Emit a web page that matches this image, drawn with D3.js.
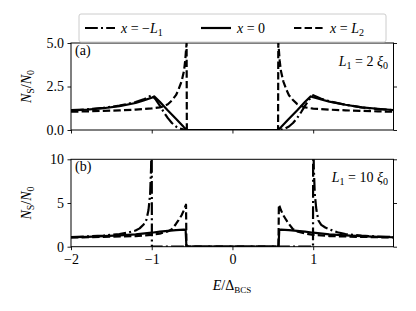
<!DOCTYPE html>
<html>
<head>
<meta charset="utf-8">
<script src="https://cdn.jsdelivr.net/npm/d3@7"></script>
<style>
  body { margin: 0; background: #fff; }
  text { font-family: "Liberation Serif", "DejaVu Serif", serif; }
</style>
</head>
<body>
<svg id="chart" width="416" height="311"></svg>
<script>
// x ticks shared by both panels
const xTicks = [-2, -1, 0, 1];
const yTicksA = [0, 2.5, 5];
const yTicksB = [0, 5, 10];

// panel (a): L1 = 2 xi0
const eA_minusL1 = [-2, -1.8, -1.6, -1.4, -1.2, -1.1, -1.0, -0.95, -0.9, -0.85, -0.8, -0.75, -0.7, -0.65, -0.6, -0.565,
  0.565, 0.6, 0.65, 0.7, 0.75, 0.8, 0.85, 0.9, 0.95, 1.0, 1.1, 1.2, 1.4, 1.6, 1.8, 1.99];
const nA_minusL1 = [1.14, 1.19, 1.27, 1.4, 1.6, 1.76, 2.0, 1.75, 1.4, 1.02, 0.68, 0.4, 0.2, 0.08, 0.02, 0,
  0, 0.02, 0.08, 0.2, 0.4, 0.68, 1.02, 1.4, 1.75, 2.0, 1.8, 1.65, 1.45, 1.3, 1.2, 1.14];

const eA_zero = [-2, -1.8, -1.6, -1.4, -1.2, -1.1, -1.0, -0.97, -0.9, -0.8, -0.7, -0.6, -0.565,
  0.565, 0.6, 0.7, 0.8, 0.9, 0.97, 1.0, 1.1, 1.2, 1.4, 1.6, 1.8, 1.99];
const nA_zero = [1.12, 1.17, 1.25, 1.37, 1.55, 1.7, 1.85, 1.93, 1.62, 1.12, 0.65, 0.16, 0,
  0, 0.16, 0.65, 1.12, 1.62, 1.93, 1.88, 1.75, 1.63, 1.45, 1.3, 1.22, 1.15];

const eA_L2 = [-2, -1.8, -1.6, -1.4, -1.2, -1.0, -0.9, -0.85, -0.8, -0.75, -0.7, -0.67, -0.63, -0.6, -0.585, -0.575, -0.568, -0.565,
  0.565, 0.568, 0.575, 0.585, 0.6, 0.63, 0.67, 0.7, 0.75, 0.8, 0.85, 0.9, 1.0, 1.2, 1.4, 1.6, 1.8, 1.99];
const nA_L2 = [1.05, 1.07, 1.1, 1.13, 1.17, 1.24, 1.3, 1.37, 1.48, 1.7, 2.0, 2.3, 2.8, 3.4, 4.0, 4.6, 5.0, 0,
  0, 5.0, 4.6, 4.0, 3.4, 2.8, 2.3, 2.0, 1.72, 1.5, 1.38, 1.3, 1.23, 1.17, 1.13, 1.1, 1.07, 1.05];

// panel (b): L1 = 10 xi0
const eB_minusL1 = [-2, -1.8, -1.6, -1.4, -1.3, -1.2, -1.15, -1.1, -1.065, -1.04, -1.02, -1.008, -1.0, -0.998,
  0.998, 1.0, 1.008, 1.02, 1.04, 1.065, 1.1, 1.15, 1.2, 1.3, 1.4, 1.6, 1.8, 1.99];
const nB_minusL1 = [1.1, 1.17, 1.27, 1.45, 1.6, 1.85, 2.1, 2.55, 3.1, 4.2, 6.0, 9.0, 14, 0,
  0, 14, 9.0, 6.0, 4.2, 3.0, 2.5, 2.2, 2.0, 1.65, 1.45, 1.27, 1.17, 1.1];

const eB_zero = [-2, -1.8, -1.6, -1.4, -1.2, -1.0, -0.9, -0.8, -0.7, -0.6, -0.58, -0.57,
  0.57, 0.58, 0.6, 0.7, 0.8, 0.9, 1.0, 1.2, 1.4, 1.6, 1.8, 1.99];
const nB_zero = [1.08, 1.13, 1.2, 1.3, 1.42, 1.6, 1.72, 1.82, 1.9, 1.95, 1.9, 0,
  0, 1.9, 1.95, 1.9, 1.82, 1.72, 1.6, 1.42, 1.3, 1.2, 1.13, 1.08];

const eB_L2 = [-2, -1.6, -1.2, -1.0, -0.9, -0.8, -0.75, -0.7, -0.67, -0.63, -0.6, -0.585, -0.575, -0.57,
  0.57, 0.575, 0.585, 0.6, 0.63, 0.67, 0.7, 0.75, 0.8, 0.9, 1.0, 1.2, 1.6, 1.99];
const nB_L2 = [1.05, 1.12, 1.22, 1.35, 1.5, 1.75, 2.0, 2.6, 3.0, 3.6, 4.2, 4.6, 4.8, 0,
  0, 4.8, 4.6, 4.2, 3.6, 3.0, 2.6, 2.0, 1.75, 1.5, 1.35, 1.22, 1.12, 1.05];

const svg = d3.select('#chart');

const x = d3.scaleLinear().domain([-2, 1.995]).range([71, 393.5]);

const dashDot = '12.8,3.2,2,3.2';
const dashed = '7.4,3.2';
const lw = 2.2;
const fs = 14;

// helper for text with italic / subscript pieces
function mathText(sel, parts) {
    parts.forEach(p => {
        const t = sel.append('tspan').text(p.t);
        if (p.i) t.style('font-style', 'italic');
        if (p.sub) t.attr('font-size', p.size || 10).attr('dy', p.sub);
    });
}

function drawPanel(cfg) {
    const y = d3.scaleLinear().domain(cfg.yDomain).range([cfg.bottom, cfg.top]);
    const g = svg.append('g');

    g.append('clipPath').attr('id', cfg.id)
        .append('rect')
        .attr('x', x.range()[0]).attr('y', cfg.top)
        .attr('width', x.range()[1] - x.range()[0])
        .attr('height', cfg.bottom - cfg.top);

    const line = d3.line().x(d => x(d[0])).y(d => y(d[1]));

    cfg.series.forEach(s => {
        g.append('path')
            .datum(d3.zip(s.e, s.n))
            .attr('d', line)
            .attr('clip-path', `url(#${cfg.id})`)
            .attr('fill', 'none')
            .attr('stroke', '#000')
            .attr('stroke-width', lw)
            .attr('stroke-dasharray', s.dash)
            .attr('stroke-linejoin', 'round');
    });

    // axes
    const xAxis = g.append('g')
        .attr('transform', `translate(0,${cfg.bottom})`)
        .call(d3.axisBottom(x).tickValues(xTicks).tickSize(3.5).tickSizeOuter(0).tickPadding(3.5)
            .tickFormat(cfg.showX ? d3.format('d') : ''));
    const yAxis = g.append('g')
        .attr('transform', `translate(${x.range()[0]},0)`)
        .call(d3.axisLeft(y).tickValues(cfg.yTicks).tickSize(3.5).tickSizeOuter(0).tickPadding(3.5)
            .tickFormat(d3.format(cfg.yFormat)));
    const yAxisR = g.append('g')
        .attr('transform', `translate(${x.range()[1]},0)`)
        .call(d3.axisRight(y).tickValues(cfg.yTicks).tickSize(3.5).tickSizeOuter(0).tickFormat(''));

    [xAxis, yAxis, yAxisR].forEach(a => {
        a.attr('font-family', null).attr('font-size', null);
        a.select('.domain').remove();
        a.selectAll('line').attr('stroke-width', 0.9);
        a.selectAll('text')
            .style('font-size', fs + 'px')
            .attr('fill', '#000');
    });

    // frame
    g.append('rect')
        .attr('x', x.range()[0]).attr('y', cfg.top)
        .attr('width', x.range()[1] - x.range()[0])
        .attr('height', cfg.bottom - cfg.top)
        .attr('fill', 'none').attr('stroke', '#000').attr('stroke-width', 1);

    // panel tag and L1 annotation
    g.append('text').attr('x', 75).attr('y', cfg.top + 12)
        .style('font-size', fs + 'px').text(cfg.tag);
    const ann = g.append('text').attr('x', 388).attr('y', cfg.top + 23)
        .attr('text-anchor', 'end').style('font-size', fs + 'px');
    mathText(ann, [
        { t: 'L', i: true }, { t: '1', sub: 3 },
        { t: ' = ' + cfg.lval + ' ', sub: -3, size: fs },
        { t: 'ξ', i: true }, { t: '0', sub: 3 }
    ]);

    // y label
    const yl = g.append('text')
        .attr('transform', `translate(31,${(cfg.top + cfg.bottom) / 2}) rotate(-90)`)
        .attr('text-anchor', 'middle').style('font-size', fs + 'px');
    mathText(yl, [
        { t: 'N', i: true }, { t: 'S', sub: 3 },
        { t: '/', sub: -3, size: fs },
        { t: 'N', i: true }, { t: '0', sub: 3 }
    ]);
}

drawPanel({
    id: 'clipA', top: 43, bottom: 130, yDomain: [0, 5], yTicks: yTicksA, yFormat: '.1f',
    showX: false, tag: '(a)', lval: '2',
    series: [
        { e: eA_minusL1, n: nA_minusL1, dash: dashDot },
        { e: eA_zero, n: nA_zero, dash: null },
        { e: eA_L2, n: nA_L2, dash: dashed }
    ]
});

drawPanel({
    id: 'clipB', top: 159.3, bottom: 246.7, yDomain: [0, 10], yTicks: yTicksB, yFormat: 'd',
    showX: true, tag: '(b)', lval: '10',
    series: [
        { e: eB_minusL1, n: nB_minusL1, dash: dashDot },
        { e: eB_zero, n: nB_zero, dash: null },
        { e: eB_L2, n: nB_L2, dash: dashed }
    ]
});

// x label
const xl = svg.append('text').attr('x', 232).attr('y', 290)
    .attr('text-anchor', 'middle').style('font-size', fs + 'px');
mathText(xl, [
    { t: 'E', i: true }, { t: '/Δ' },
    { t: 'BCS', sub: 3, size: 9 }
]);

// legend
const legend = svg.append('g');
legend.append('rect')
    .attr('x', 79).attr('y', 14).attr('width', 307).attr('height', 28)
    .attr('rx', 2).attr('fill', '#fff').attr('stroke', '#cccccc').attr('stroke-width', 1);

const legendItems = [
    { x0: 85, dash: dashDot, label: [{ t: 'x', i: true }, { t: ' = −' }, { t: 'L', i: true }, { t: '1', sub: 3 }] },
    { x0: 201, dash: null, label: [{ t: 'x', i: true }, { t: ' = 0' }] },
    { x0: 294, dash: dashed, label: [{ t: 'x', i: true }, { t: ' = ' }, { t: 'L', i: true }, { t: '2', sub: 3 }] }
];
legendItems.forEach(it => {
    legend.append('line')
        .attr('x1', it.x0).attr('x2', it.x0 + 30)
        .attr('y1', 28).attr('y2', 28)
        .attr('stroke', '#000').attr('stroke-width', lw)
        .attr('stroke-dasharray', it.dash);
    const t = legend.append('text').attr('x', it.x0 + 36).attr('y', 33).style('font-size', fs + 'px');
    mathText(t, it.label);
});
</script>
</body>
</html>
